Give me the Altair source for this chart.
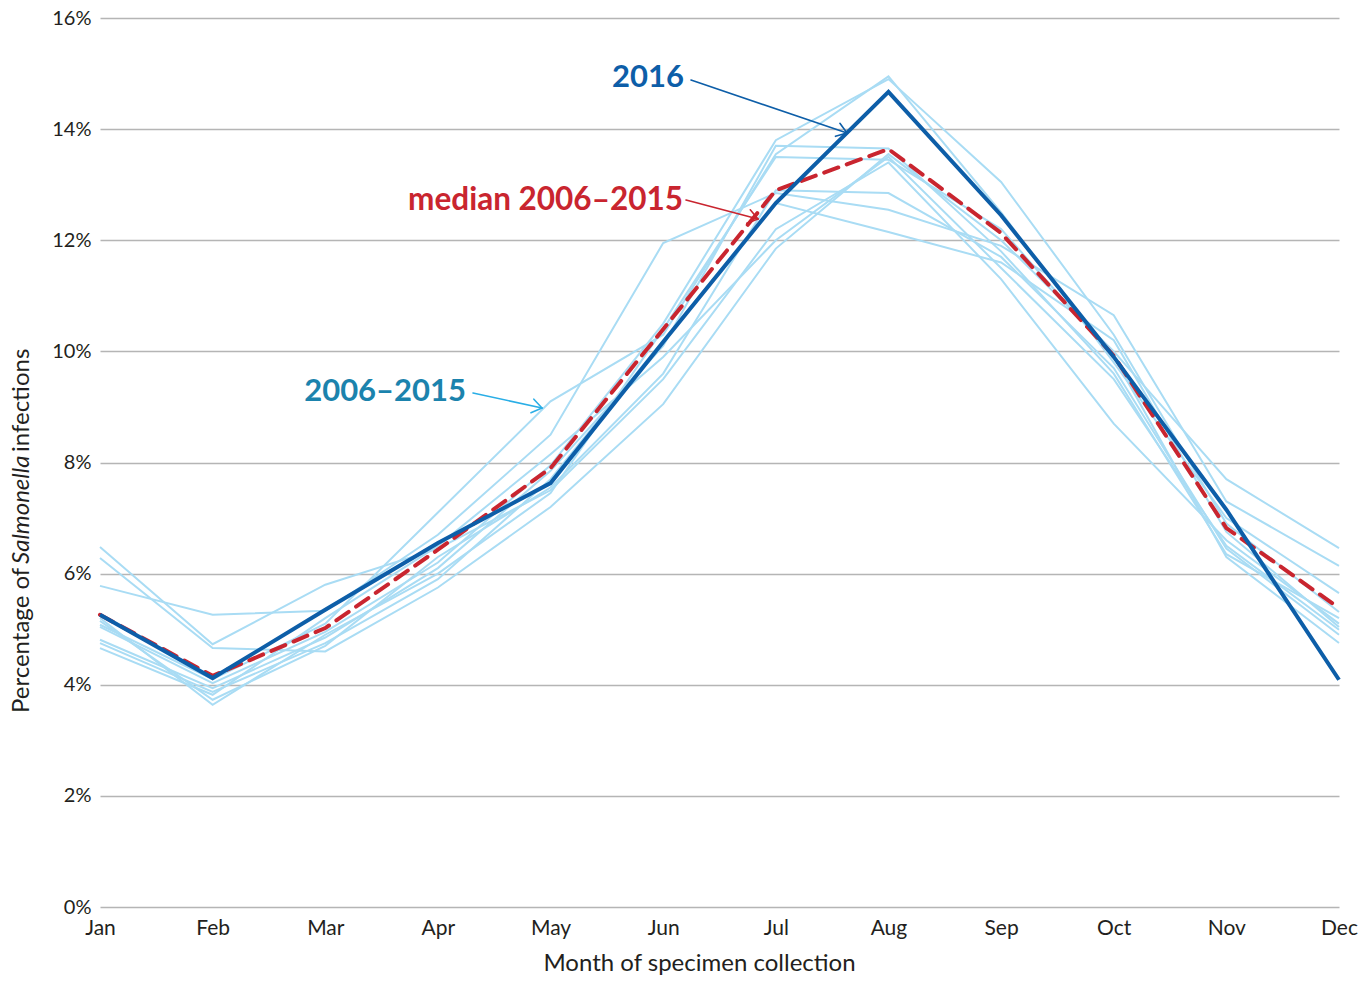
import math
import altair as alt
import pandas as pd

months = ["Jan", "Feb", "Mar", "Apr", "May", "Jun", "Jul", "Aug", "Sep", "Oct", "Nov", "Dec"]

y2016 = [5.26, 4.12, 5.35, 6.55, 7.63, 10.17, 12.67, 14.67, 12.45, 9.90, 7.15, 4.09]
median_0615 = [5.26, 4.16, 5.02, 6.43, 7.90, 10.40, 12.90, 13.64, 12.13, 9.92, 6.82, 5.38]

hist_years = ["2006", "2007", "2008", "2009", "2010", "2011", "2012", "2013", "2014", "2015"]
h1 = [6.48, 4.73, 5.80, 6.45, 7.50, 9.50, 12.20, 13.40, 11.30, 8.70, 6.60, 5.10]
h2 = [6.28, 4.66, 4.60, 5.75, 7.20, 9.05, 11.85, 13.55, 12.00, 10.00, 7.70, 6.46]
h3 = [5.78, 5.26, 5.33, 6.70, 8.50, 11.95, 12.85, 12.55, 11.90, 10.65, 7.30, 6.14]
h4 = [5.08, 4.10, 5.10, 7.10, 9.10, 10.30, 13.55, 14.95, 12.50, 9.80, 7.00, 5.65]
h5 = [5.04, 4.03, 4.95, 6.20, 7.95, 10.50, 13.80, 14.90, 13.05, 10.30, 6.90, 5.31]
h6 = [4.81, 3.94, 4.85, 6.10, 7.85, 10.10, 13.70, 13.65, 11.80, 9.60, 6.35, 5.20]
h7 = [4.75, 3.87, 4.75, 5.90, 7.70, 10.20, 12.67, 12.15, 11.60, 10.20, 6.75, 5.04]
h8 = [4.66, 3.82, 5.20, 6.50, 8.15, 9.90, 12.00, 13.50, 11.50, 9.50, 6.50, 4.99]
h9 = [5.15, 3.73, 4.70, 6.30, 7.55, 9.60, 12.90, 12.85, 11.70, 9.70, 6.45, 4.90]
h10 = [5.20, 3.64, 4.90, 6.00, 7.45, 10.40, 13.50, 13.45, 12.20, 9.90, 6.30, 4.75]
hist_values = [h1, h2, h3, h4, h5, h6, h7, h8, h9, h10]

y_ticks = [0, 2, 4, 6, 8, 10, 12, 14, 16]

FONT = "Lato"
DARK = "#0d5ea8"
RED = "#c9252f"
LIGHT = "#a9dcf4"
TEAL = "#1b83ad"
ARROW_LIGHT = "#2aaee6"
TXT = "#231f20"

rows = []
for yr, vals in zip(hist_years, hist_values):
    for m, v in zip(months, vals):
        rows.append({"month": m, "pct": v, "series": yr})
hist_df = pd.DataFrame(rows)
df2016 = pd.DataFrame({"month": months, "pct": y2016})
dfmed = pd.DataFrame({"month": months, "pct": median_0615})

x_enc = alt.X(
    "month:O",
    sort=months,
    scale=alt.Scale(padding=0),
    axis=alt.Axis(
        title="Month of specimen collection",
        labelAngle=0,
        labelFont=FONT,
        labelFontSize=21,
        labelColor=TXT,
        labelPadding=10,
        ticks=False,
        domain=False,
        grid=False,
        titleFont=FONT,
        titleFontSize=24,
        titleFontWeight="normal",
        titleColor=TXT,
        titleX=599,
        titleY=63,
        titleBaseline="alphabetic",
        titleAnchor="start",
        titleAlign="center",
    ),
)
y_enc = alt.Y(
    "pct:Q",
    scale=alt.Scale(domain=[0, 16], nice=False),
    axis=alt.Axis(
        title=None,
        values=y_ticks,
        labelExpr="datum.value + '%'",
        labelFont=FONT,
        labelFontSize=20,
        labelColor=TXT,
        labelPadding=9,
        ticks=False,
        domain=False,
        grid=True,
        gridColor="#b5b5b5",
        gridWidth=1.3,
    ),
)

hist = alt.Chart(hist_df).mark_line(color=LIGHT, strokeWidth=2).encode(
    x=x_enc, y=y_enc, detail="series:N"
)
med = alt.Chart(dfmed).mark_line(
    color=RED, strokeWidth=4, strokeDash=[15, 9], strokeCap="round"
).encode(x=x_enc, y=y_enc)
line2016 = alt.Chart(df2016).mark_line(color=DARK, strokeWidth=4).encode(x=x_enc, y=y_enc)

one = pd.DataFrame({"k": [0]})


def seg(x0, y0, x1, y1, color, width):
    return alt.Chart(one).mark_rule(color=color, strokeWidth=width, strokeCap="round").encode(
        x=alt.value(x0), y=alt.value(y0), x2=alt.value(x1), y2=alt.value(y1)
    )


def arrow(x0, y0, x1, y1, color, width, head=12, ang=35):
    dx, dy = x1 - x0, y1 - y0
    L = math.hypot(dx, dy)
    bx, by = -dx / L, -dy / L
    c, s = math.cos(math.radians(ang)), math.sin(math.radians(ang))
    a1 = (bx * c - by * s, bx * s + by * c)
    a2 = (bx * c + by * s, -bx * s + by * c)
    return [
        seg(x0, y0, x1, y1, color, width),
        seg(x1, y1, x1 + a1[0] * head, y1 + a1[1] * head, color, width),
        seg(x1, y1, x1 + a2[0] * head, y1 + a2[1] * head, color, width),
    ]


def label(text, x, y, color, size, weight="bold", align="right", baseline="alphabetic",
          angle=0, style="normal"):
    return alt.Chart(one).mark_text(
        text=text, font=FONT, fontSize=size, fontWeight=weight, color=color,
        align=align, baseline=baseline, angle=angle, fontStyle=style,
    ).encode(x=alt.value(x), y=alt.value(y))


# annotation positions are in plot-area pixels (plot origin at page x=100, y=18)
annots = []
annots += arrow(591, 62, 747, 115, DARK, 1.6)
annots += arrow(586, 182, 658, 201, RED, 1.6)
annots += arrow(373, 375, 442, 390, ARROW_LIGHT, 1.6)
annots.append(label("2016", 584, 69, DARK, 31))
annots.append(label("median 2006\u20132015", 583, 192, RED, 31.5))
annots.append(label("2006\u20132015", 366, 383, TEAL, 31))

# y-axis title with italic genus name
annots.append(label("Percentage of ", -78, 695, TXT, 24, weight="normal", align="left",
                    baseline="middle", angle=270))
annots.append(label("Salmonella", -78, 546, TXT, 24, weight="normal", align="left",
                    baseline="middle", angle=270, style="italic"))
annots.append(label(" infections", -78, 434, TXT, 24, weight="normal", align="left",
                    baseline="middle", angle=270))

chart = alt.layer(hist, med, line2016, *annots).properties(
    width=1239,
    height=889,
    autosize=alt.AutoSizeParams(type="none"),
    padding={"left": 92, "top": 10, "right": 20, "bottom": 69},
).configure(background="white", view=alt.ViewConfig(stroke=None))

chart.save("out.html", embed_options={"renderer": "svg", "actions": False})
